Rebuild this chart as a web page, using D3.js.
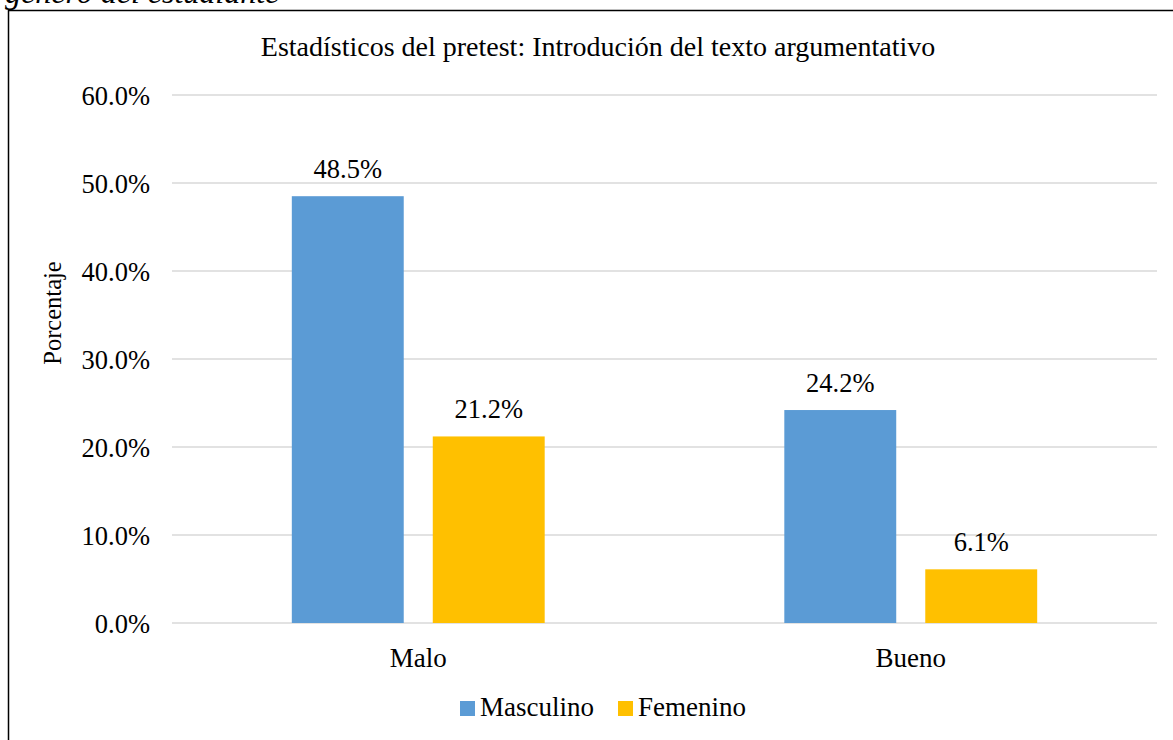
<!DOCTYPE html>
<html>
<head>
<meta charset="utf-8">
<script src="https://cdn.jsdelivr.net/npm/d3@7"></script>
<style>
  body { margin: 0; background: #fff; }
  svg { display: block; font-family: "Liberation Serif", "Times New Roman", serif; }
</style>
</head>
<body>
<div id="chart"></div>
<script>
// chart data
const categories = ['Malo', 'Bueno'];
const seriesNames = ['Masculino', 'Femenino'];
const masculino = [48.5, 24.2];
const femenino = [21.2, 6.1];
const yTicks = [0, 10, 20, 30, 40, 50, 60];
const colors = ['#5B9BD5', '#FFC000'];

const width = 1173, height = 740;
const margin = { left: 172, right: 16, top: 95, bottom: 117 };
const serif = '"Liberation Serif", "Times New Roman", serif';

const svg = d3.select('#chart')
    .append('svg')
    .attr('width', width)
    .attr('height', height);

// caption cut off at top, and the chart frame
svg.append('text')
    .attr('x', 5)
    .attr('y', 3)
    .style('font-family', serif)
    .style('font-size', '32px')
    .style('font-style', 'italic')
    .text('género del estudiante');

svg.append('path')
    .attr('d', `M8.5,${height + 5}V10.5H${width + 5}`)
    .attr('fill', 'none')
    .attr('stroke', '#000')
    .attr('stroke-width', 1.5);

const x0 = d3.scaleBand()
    .domain(categories)
    .range([margin.left, width - margin.right]);

const x1 = d3.scaleBand()
    .domain(seriesNames)
    .range([0, x0.bandwidth()])
    .paddingInner(0.206)
    .paddingOuter(0.85);

const y = d3.scaleLinear()
    .domain([0, 60])
    .range([height - margin.bottom, margin.top]);

// gridlines
svg.append('g')
    .selectAll('line')
    .data(yTicks)
    .enter()
    .append('line')
    .attr('x1', margin.left)
    .attr('x2', width - margin.right)
    .attr('y1', d => y(d))
    .attr('y2', d => y(d))
    .attr('stroke', '#D9D9D9')
    .attr('stroke-width', 1.5);

// y axis labels
const yAxis = svg.append('g')
    .attr('transform', `translate(${margin.left - 22},0)`)
    .call(d3.axisLeft(y).tickValues(yTicks).tickFormat(d => d.toFixed(1) + '%').tickSize(0).tickPadding(0));
yAxis.select('.domain').remove();
yAxis.selectAll('text')
    .attr('dy', '0.35em')
    .style('font-family', serif)
    .style('font-size', '26.5px')
    .attr('fill', '#000');

// bars
const rows = categories.map((c, i) => ({ cat: c, vals: [masculino[i], femenino[i]] }));

const group = svg.append('g')
    .selectAll('g')
    .data(rows)
    .enter()
    .append('g')
    .attr('transform', d => `translate(${x0(d.cat)},0)`);

group.selectAll('rect')
    .data(d => d.vals.map((v, j) => ({ name: seriesNames[j], v, j })))
    .enter()
    .append('rect')
    .attr('x', d => x1(d.name))
    .attr('width', x1.bandwidth())
    .attr('y', d => y(d.v))
    .attr('height', d => y(0) - y(d.v))
    .attr('fill', d => colors[d.j]);

group.selectAll('text')
    .data(d => d.vals.map((v, j) => ({ name: seriesNames[j], v })))
    .enter()
    .append('text')
    .attr('x', d => x1(d.name) + x1.bandwidth() / 2)
    .attr('y', d => y(d.v) - 18)
    .attr('text-anchor', 'middle')
    .style('font-family', serif)
    .style('font-size', '26.5px')
    .text(d => d.v.toFixed(1) + '%');

// category labels
svg.append('g')
    .selectAll('text')
    .data(categories)
    .enter()
    .append('text')
    .attr('x', d => x0(d) + x0.bandwidth() / 2)
    .attr('y', height - margin.bottom + 44)
    .attr('text-anchor', 'middle')
    .style('font-family', serif)
    .style('font-size', '27px')
    .text(d => d);

// title
svg.append('text')
    .attr('x', 598)
    .attr('y', 56)
    .attr('text-anchor', 'middle')
    .style('font-family', serif)
    .style('font-size', '28px')
    .text('Estadísticos del pretest: Introdución del texto argumentativo');

// y axis title
svg.append('text')
    .attr('transform', 'translate(61,313) rotate(-90)')
    .attr('text-anchor', 'middle')
    .style('font-family', serif)
    .style('font-size', '24.5px')
    .text('Porcentaje');

// legend
const legend = svg.append('g').attr('transform', 'translate(460,716)');
const legendX = [0, 158];
seriesNames.forEach((name, i) => {
    const item = legend.append('g').attr('transform', `translate(${legendX[i]},0)`);
    item.append('rect')
        .attr('x', 0)
        .attr('y', -15)
        .attr('width', 15)
        .attr('height', 15)
        .attr('fill', colors[i]);
    item.append('text')
        .attr('x', 20)
        .attr('y', 0)
        .style('font-family', serif)
        .style('font-size', '27px')
        .text(name);
});
</script>
</body>
</html>
